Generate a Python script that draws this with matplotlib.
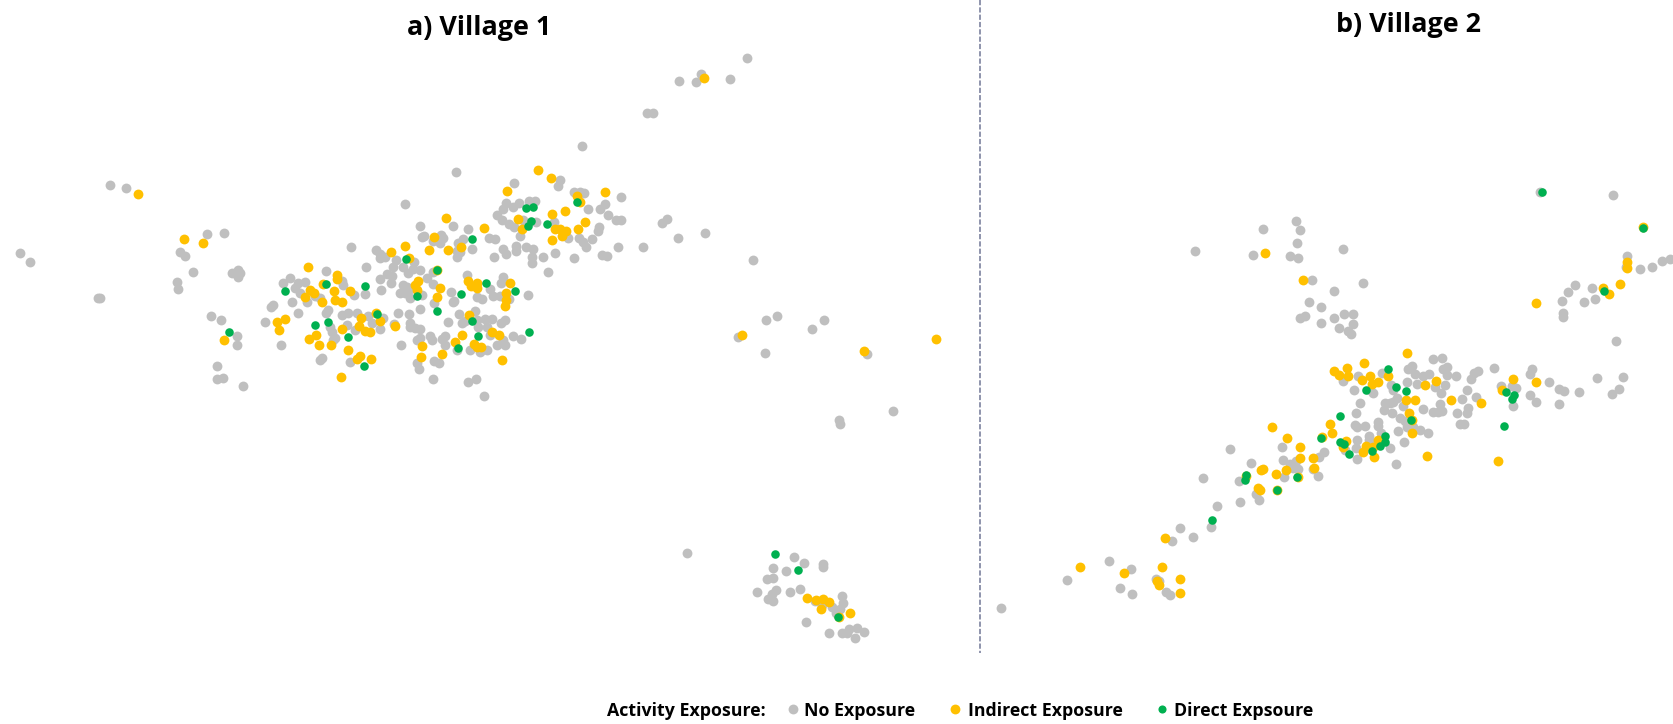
import numpy as np
import matplotlib
matplotlib.use("Agg")
import matplotlib.pyplot as plt

GREY, ORANGE, GREEN = "#BFBFBF", "#FFC000", "#00B050"

# Village 1 - dense core, map readings
v1_core_none = [(1055,47),(679,125),(853,160),(991,150),(985,167),(1032,185),(1050,185),(1062,188),(1172,201),(1125,222),(1110,237),(1074,236),(1133,254),(1158,270),(1172,270),(1107,290),(1105,303),(1047,323),(1060,335),(1067,350),(1087,327),(1015,325),(1165,352),(1238,350),(1115,375),(1131,377),(1033,384),(976,368),(940,380),(907,380),(907,400),(954,425),(909,356),(888,352),(859,348),(859,362),(818,358),(827,372),(793,381),(869,318),(837,283),(852,292),(880,270),(917,277),(973,277),(800,255),(815,270),(827,218),(818,236),(850,232),(868,220),(897,212),(916,213),(778,324),(796,327),(714,296),(669,287),(571,287),(525,223),(363,352),(575,320),(582,318),(633,315),(640,325),(630,340),(610,332),(685,340),(700,328),(727,356),(680,362),(690,365),(680,380),(438,359),(450,372),(465,380),(450,385),(497,390),(553,395),(490,412),(407,412),(520,412),(535,430),(550,418),(570,420),(590,445),(610,463),(610,425),(470,432),(485,437),(449,447),(483,460),(452,479),(520,465),(530,470),(540,478),(510,490),(525,490),(540,505),(575,495),(612,518),(663,485),(668,515),(672,512),(711,434),(780,478),(788,498),(810,498),(820,440),(812,460),(838,507),(894,495),(740,500),(757,507),(688,551),(735,542),(695,578),(705,572),(654,577),(503,549),(537,551),(569,536),(540,578),(540,590),(491,582),(555,595),(570,598),(570,625),(600,618),(605,630),(562,630),(645,618),(635,628),(645,645),(512,646),(740,570),(765,568),(787,567),(745,590),(770,590),(825,570),(812,580),(780,615),(850,618),(872,627),(800,645),(825,645),(820,630),(720,660),(750,665),(770,660),(680,660),(560,700),(612,693),(627,700),(568,718),(610,747),(713,757),(739,747),(761,798),(38,767),(152,646),(22,618),(22,646),(105,577),(123,530),(130,525),(205,549),(160,460),(180,445),(205,460),(225,457),(195,475),(210,490),(187,517),(230,517),(255,497),(270,505),(288,422),(340,465),(335,452),(373,495),(295,540),(287,550),(335,555),(355,548),(380,548),(414,558),(350,585),(300,590),(305,605),(315,625),(310,630),(375,600),(425,580),(449,596),(460,565),(404,491),(270,690),(275,683),(360,697),(5,430),(25,420),(30,430),(25,440),(15,430)]
v1_core_indirect = [(925,120),(963,145),(831,183),(1124,186),(1042,197),(1050,215),(1005,243),(966,252),(863,268),(1065,275),(875,297),(976,296),(990,298),(1007,303),(1045,298),(997,318),(965,329),(761,293),(648,265),(613,322),(692,352),(654,359),(597,359),(525,347),(484,365),(538,385),(234,410),(322,435),(322,448),(278,463),(240,480),(253,490),(224,500),(275,515),(313,482),(360,483),(316,511),(335,517),(563,453),(556,465),(562,480),(631,473),(622,501),(715,452),(722,467),(742,460),(742,475),(839,458),(827,490),(827,510),(824,527),(717,555),(438,549),(392,565),(449,574),(386,587),(405,602),(420,605),(335,596),(495,589),(165,568),(142,577),(146,599),(259,614),(237,627),(268,646),(304,646),(354,659),(390,678),(380,686),(423,688),(332,741),(575,647),(574,681),(635,672),(695,615),(676,636),(733,642),(740,650),(752,652),(786,605),(806,615),(815,690),(620,420)]
v1_core_direct = [(166,484),(289,462),(406,468),(527,386),(725,326),(621,421),(561,499),(621,544),(441,553),(295,576),(254,585),(355,622),(403,708),(-2,607),(693,493),(769,459),(854,484),(725,572),(744,617),(684,654),(898,607),(889,235),(908,231),(902,272),(895,289),(952,282),(1041,215)]

# Village 1 - southern hamlet
v1_south_none = [(193,81),(222,100),(278,102),(278,110),(129,115),(167,124),(110,148),(129,144),(82,185),(139,179),(127,192),(180,185),(211,176),(115,207),(128,212),(335,198),(338,220),(255,213),(275,225),(305,230),(330,238),(228,277),(297,308),(337,308),(350,308),(357,297),(382,295),(402,305),(376,323),(318,250)]
v1_south_indirect = [(231,204),(259,210),(278,208),(296,216),(272,238),(360,248),(326,261)]
v1_south_direct = [(135,73),(204,121),(323,260)]

# Village 1 - outlying households
v1_out_none = [(700,54),(684,74),(657,69),(652,77),(636,76),(606,106),(612,106),(103,173),(118,176),(19,237),(28,246),(92,279),(94,279),(166,264),(167,271),(181,255),(169,236),(173,240),(194,219),(210,218),(198,296),(207,300),(203,343),(203,355),(209,354),(625,205),(620,209),(661,218),(635,223),(706,244),(728,296),(718,300),(692,316),(717,331),(772,300),(761,308),(813,332),(786,394),(787,397),(837,385),(644,518)]
v1_out_indirect = [(129,182),(172,224),(190,228),(660,73),(210,319),(695,314),(810,329),(877,318)]

# Village 2 - central corridor
v2_core_none = [(604,12),(850,87),(876,83),(787,108),(775,117),(697,130),(623,137),(578,153),(613,181),(660,180),(670,188),(722,165),(730,180),(770,156),(795,133),(820,137),(838,133),(880,117),(891,110),(892,135),(917,137),(802,162),(855,172),(885,165),(872,190),(1031,115),(983,123),(972,130),(963,147),(1147,116),(1141,133),(1052,169),(1085,168),(1097,175),(1198,156),(1226,177),(1242,184),(1141,194),(1159,215),(1226,222),(1090,228),(951,181),(935,206),(979,201),(955,233),(951,248),(920,250),(930,282),(942,282),(870,222),(875,242),(850,245),(863,245),(819,237),(760,229),(742,205),(730,215),(720,218),(706,219),(702,241),(725,250),(749,263),(765,272),(629,219),(617,250),(614,286),(620,292),(645,289),(683,276),(683,287),(770,292),(790,292),(810,300),(835,310),(745,304),(692,310),(762,336),(620,330),(657,318),(657,330),(617,355),(620,386),(585,360),(720,355),(739,402),(660,345),(522,367),(506,380),(396,352),(399,390),(420,403),(437,393),(445,417),(430,415),(402,440),(503,437),(240,358),(304,399),(268,452),(159,443),(317,493),(326,509),(269,516),(200,529),(183,590),(89,593),(490,418)]
v2_core_indirect = [(771,68),(642,99),(553,124),(566,134),(591,115),(595,137),(636,149),(660,137),(713,137),(666,162),(685,156),(824,165),(859,153),(767,209),(796,209),(903,209),(992,219),(1090,147),(1159,156),(1057,181),(778,250),(787,310),(541,282),(547,308),(367,292),(411,323),(516,322),(449,352),(449,384),(490,384),(493,415),(408,421),(377,431),(333,421),(339,418),(289,437),(325,473),(331,481),(381,479),(443,440),(588,333),(578,352),(648,347),(670,352),(640,367),(673,380),(685,330),(831,377),(1043,393),(786,270)]
v2_core_direct = [(713,116),(738,170),(767,183),(647,180),(571,259),(783,271),(1069,186),(1092,195),(1087,208),(1061,287),(514,325),(571,335),(583,343),(596,372),(665,363),(691,347),(706,319),(706,335),(442,441),(381,479),(287,435),(284,449),(185,571)]

# Village 2 - outlying households
v2_out_none = [(1120,235),(1174,239),(1184,215),(1215,207),(1218,216),(1216,228),(1209,240),(1217,242),(1259,233),(1230,262),(1277,265),(1250,273),(1227,283),(1223,296),(1238,288),(1218,298),(1238,303),(1250,298),(1260,294),(1268,294),(1255,307),(1268,304),(1263,310),(1512,183),(1515,320),(1465,293),(1465,297),(1464,282),(1470,274),(1476,267),(1485,283),(1495,280),(1492,270),(1525,240),(1524,250),(1537,252),(1548,250),(1558,245),(1565,243),(1521,353),(1517,365),(1511,369),(1497,354),(1480,367),(1000,544),(1039,526),(1060,533),(1050,551),(1061,557),(1083,543),(1086,545),(1093,555),(1097,558),(1098,507),(1118,503),(938,570),(1443,180)]
v2_out_indirect = [(1186,237),(1221,262),(1440,284),(1502,270),(1508,276),(1518,266),(1525,246),(1525,251),(1012,531),(1053,537),(1089,531),(1092,504),(1084,545),(1086,548),(1106,543),(1106,556),(1540,213)]
v2_out_direct = [(1445,180),(1540,214),(1503,273)]

titles = ["a) Village 1", "b) Village 2"]
legend_title = "Activity Exposure:"
legend_labels = ["No Exposure", "Indirect Exposure", "Direct Expsoure"]


def crop(points, x0, y0):
    a = np.array(points, float)
    return np.column_stack((x0 + a[:, 0] / 3, y0 + a[:, 1] / 3))


def view(points):
    return np.array(points, float) * 1673 / 1568


none_pts = np.vstack((crop(v1_core_none, 230, 130), crop(v1_south_none, 730, 530), view(v1_out_none),
                      crop(v2_core_none, 1150, 330), view(v2_out_none)))
indirect_pts = np.vstack((crop(v1_core_indirect, 230, 130), crop(v1_south_indirect, 730, 530), view(v1_out_indirect),
                          crop(v2_core_indirect, 1150, 330), view(v2_out_indirect)))
direct_pts = np.vstack((crop(v1_core_direct, 230, 130), crop(v1_south_direct, 730, 530),
                        crop(v2_core_direct, 1150, 330), view(v2_out_direct)))

plt.rcParams["font.family"] = ["Open Sans", "DejaVu Sans"]
fig = plt.figure(figsize=(16.73, 7.24), dpi=100)
ax = fig.add_axes([0, 0, 1, 1])
ax.set_xlim(0, 1673)
ax.set_ylim(724, 0)
ax.axis("off")

ax.scatter(*none_pts.T, s=50, color=GREY, linewidths=0, zorder=2)
ax.scatter(*indirect_pts.T, s=50, color=ORANGE, linewidths=0, zorder=3)
ax.scatter(*direct_pts.T, s=38, color=GREEN, linewidths=0, zorder=4)

ax.plot([980, 980], [0, 653], color="#868BA6", lw=1.3, ls=(0, (2.9, 1.15)), zorder=1)

ax.text(479, 28, titles[0], ha="center", va="center", fontsize=19.4, fontweight="bold", color="black")
ax.text(1409, 25.5, titles[1], ha="center", va="center", fontsize=19.4, fontweight="bold", color="black")

ly = 711
ax.text(607, ly, legend_title, ha="left", va="center", fontsize=12.8, fontweight="bold", color="black")
for lx, tx, lab, col, sz in zip([793, 955, 1162], [804, 968, 1174], legend_labels, [GREY, ORANGE, GREEN], [50, 50, 34]):
    ax.scatter([lx], [ly - 2], s=sz, color=col, linewidths=0, clip_on=False)
    ax.text(tx, ly, lab, ha="left", va="center", fontsize=12.8, fontweight="bold", color="black")

fig.savefig("out.png", dpi=100)
